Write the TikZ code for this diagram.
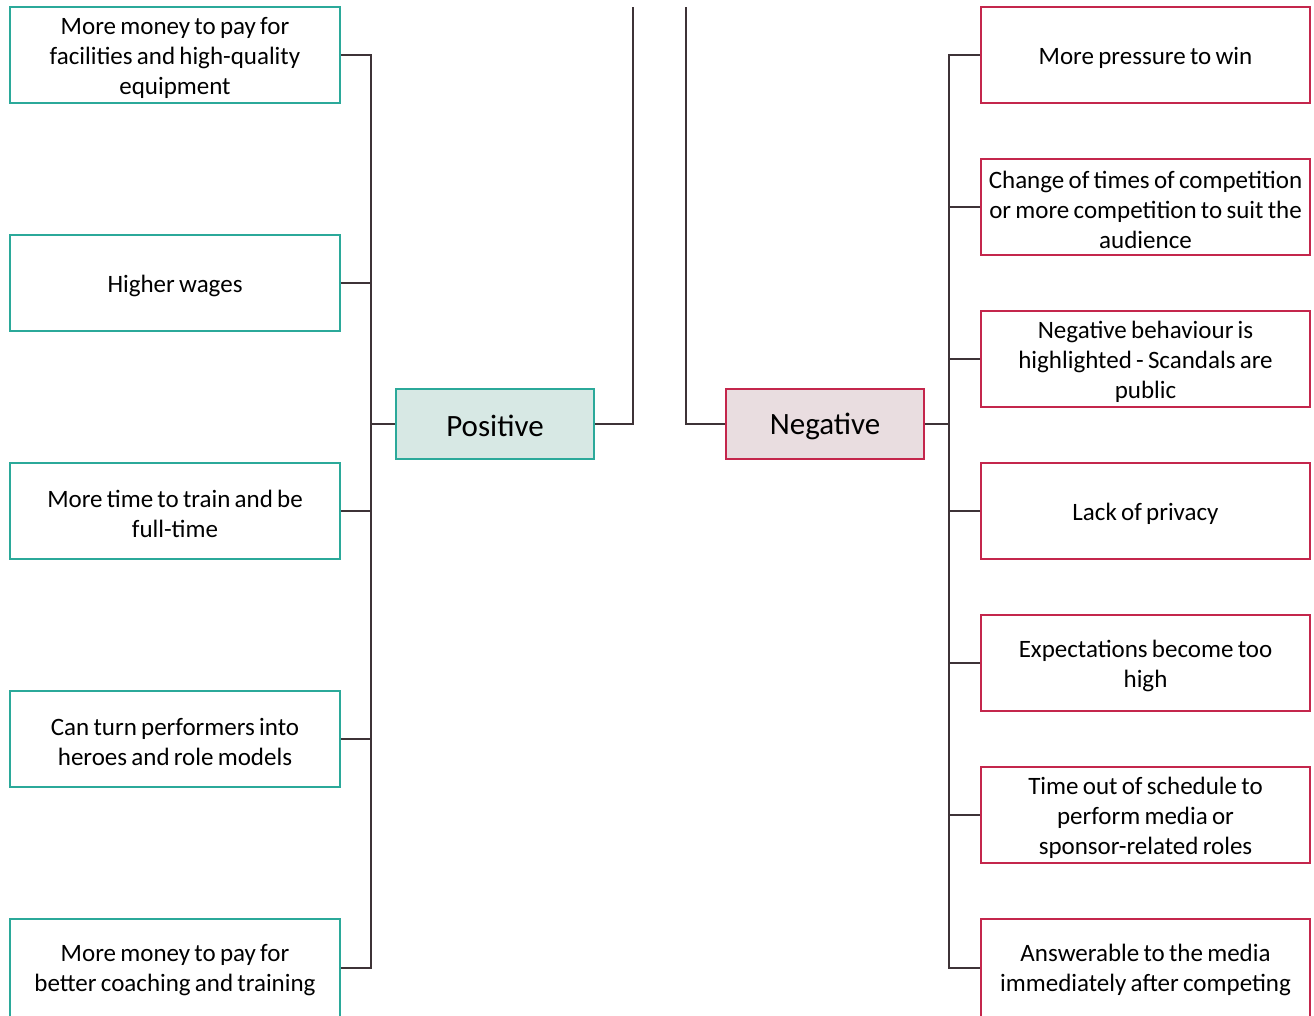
\documentclass[tikz,border=0pt]{standalone}
\usepackage{fontspec}
\setmainfont[WordSpace=0.75]{Carlito}
\definecolor{teal}{HTML}{2BA99A}
\definecolor{tealfill}{HTML}{D7E8E4}
\definecolor{crim}{HTML}{C4264C}
\definecolor{crimfill}{HTML}{E9DDE0}
\definecolor{wire}{HTML}{3E3337}
\tikzset{
  posbox/.style={draw=teal,line width=2pt,minimum width=330pt,minimum height=96pt,inner sep=0pt,align=center,font=\fontsize{25}{30}\selectfont},
  negbox/.style={draw=crim,line width=2pt,minimum width=329pt,minimum height=96pt,inner sep=0pt,align=center,font=\fontsize{25}{30}\selectfont},
  hubpos/.style={draw=teal,fill=tealfill,line width=2pt,minimum width=198pt,minimum height=70pt,inner sep=0pt,font=\fontsize{31}{36}\selectfont},
  hubneg/.style={draw=crim,fill=crimfill,line width=2pt,minimum width=198pt,minimum height=70pt,inner sep=0pt,font=\fontsize{31}{36}\selectfont},
  wire/.style={draw=wire,line width=2.2pt},
  lbl/.style={inner sep=0pt,align=center,font=\fontsize{25}{30}\selectfont}
}
\begin{document}
\begin{tikzpicture}[x=1pt,y=-1pt]
\useasboundingbox (0,0) rectangle (1314,1015);
\clip (0,0) rectangle (1314,1015);
% left
\node[posbox] (p1) at (175,55) {};
\node[posbox] (p2) at (175,283) {};
\node[posbox] (p3) at (175,511) {};
\node[posbox] (p4) at (175,739) {};
\node[posbox,minimum height=98pt] (p5) at (175,968) {};
\node[lbl] (tp1) at (175,58) {More money to pay for\\facilities and high-quality\\equipment};
\node[lbl] (tp2) at (175,286) {Higher wages};
\node[lbl] (tp3) at (175,514) {More time to train and be\\full-time};
\node[lbl] (tp4) at (175,742) {Can turn performers into\\heroes and role models};
\node[lbl] (tp5) at (175,970) {More money to pay for\\better coaching and training};
\node[hubpos] (pos) at (495,424) {};
\node[hubneg] (neg) at (825,424) {};
\node[inner sep=0pt,font=\fontsize{31}{36}\selectfont] (tpos) at (495,426) {Positive};
\node[inner sep=0pt,font=\fontsize{31}{36}\selectfont] (tneg) at (825,426) {Negative};
% right
\node[negbox] (n1) at (1145.5,55) {};
\node[negbox] (n2) at (1145.5,207) {};
\node[negbox] (n3) at (1145.5,359) {};
\node[negbox] (n4) at (1145.5,511) {};
\node[negbox] (n5) at (1145.5,663) {};
\node[negbox] (n6) at (1145.5,815) {};
\node[negbox,minimum height=98pt] (n7) at (1145.5,968) {};
\node[lbl] (tn1) at (1145.5,58) {More pressure to win};
\node[lbl] (tn2) at (1145.5,210) {Change of times of competition\\or more competition to suit the\\audience};
\node[lbl] (tn3) at (1145.5,362) {Negative behaviour is\\highlighted - Scandals are\\public};
\node[lbl] (tn4) at (1145.5,514) {Lack of privacy};
\node[lbl] (tn5) at (1145.5,666) {Expectations become too\\high};
\node[lbl] (tn6) at (1145.5,818) {Time out of schedule to\\perform media or\\sponsor-related roles};
\node[lbl] (tn7) at (1145.5,970) {Answerable to the media\\immediately after competing};
\coordinate (lb) at (371,0);
\coordinate (rb) at (949,0);
\coordinate (t1) at (633,7);
\coordinate (t2) at (686,7);
% left bus
\draw[wire] (p1.east) -- (p1.east -| lb) -- (p5.east -| lb) -- (p5.east);
\foreach \n in {p2,p3,p4}{\draw[wire] (\n.east) -- (\n.east -| lb);}
\draw[wire] (pos.west) -- (pos.west -| lb);
\draw[wire] (pos.east) -- (pos.east -| t1) -- (t1);
\draw[wire] (neg.west) -- (neg.west -| t2) -- (t2);
% right bus
\draw[wire] (n1.west) -- (n1.west -| rb) -- (n7.west -| rb) -- (n7.west);
\foreach \n in {n2,n3,n4,n5,n6}{\draw[wire] (\n.west) -- (\n.west -| rb);}
\draw[wire] (neg.east) -- (neg.east -| rb);
\end{tikzpicture}
\end{document}
